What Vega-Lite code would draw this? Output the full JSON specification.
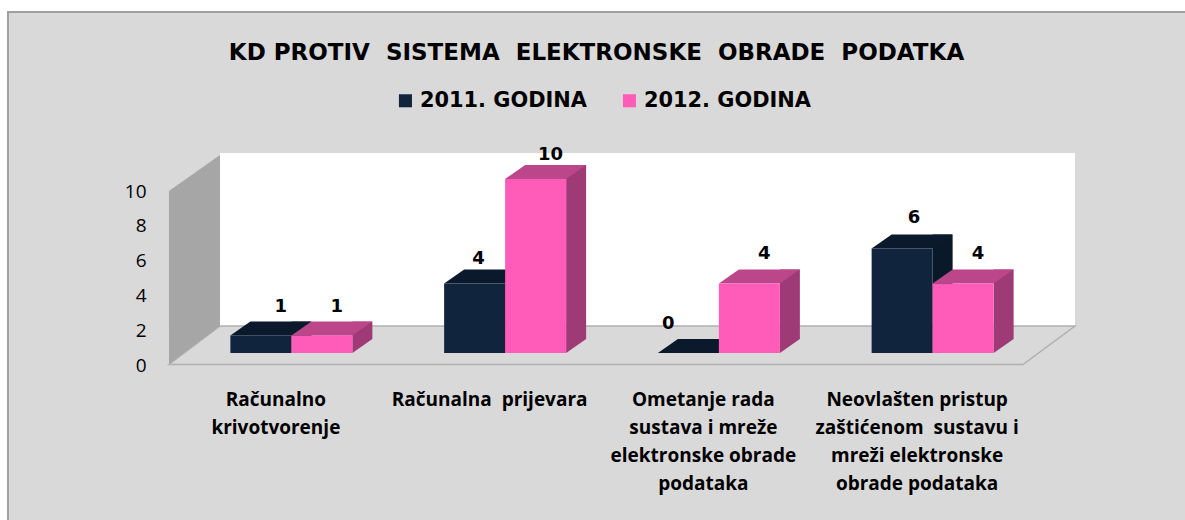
{
"$schema":"https://vega.github.io/schema/vega-lite/v6.json",
"width":855,"height":174,
"autosize":{"type":"none"},
"padding":{"left":169,"top":191,"right":161,"bottom":155},
"background":"#ffffff",
"title":{"text":"KD PROTIV \u00a0SISTEMA \u00a0ELEKTRONSKE \u00a0OBRADE \u00a0PODATKA","anchor":"middle","frame":"group","font":"DejaVu Sans","fontSize":23,"fontWeight":"bold","color":"#000000","offset":-57},
"data":{"values":[
{"category":"Računalno\nkrivotvorenje","series":"2011. GODINA","value":1},
{"category":"Računalna \u00a0prijevara","series":"2011. GODINA","value":4},
{"category":"Ometanje rada\nsustava i mreže\nelektronske obrade\npodataka","series":"2011. GODINA","value":0},
{"category":"Neovlašten pristup\nzaštićenom \u00a0sustavu i\nmreži elektronske\nobrade podataka","series":"2011. GODINA","value":6},
{"category":"Računalno\nkrivotvorenje","series":"2012. GODINA","value":1},
{"category":"Računalna \u00a0prijevara","series":"2012. GODINA","value":10},
{"category":"Ometanje rada\nsustava i mreže\nelektronske obrade\npodataka","series":"2012. GODINA","value":4},
{"category":"Neovlašten pristup\nzaštićenom \u00a0sustavu i\nmreži elektronske\nobrade podataka","series":"2012. GODINA","value":4}
]},
"encoding":{
"x":{"field":"category","type":"nominal","sort":null,"title":null,"scale":{"paddingInner":0,"paddingOuter":0},
"axis":{"domain":false,"ticks":false,"grid":false,"labelAngle":0,"labelAlign":"center","labelBaseline":"top","labelPadding":25,"labelFont":"Open Sans","labelFontWeight":"bold","labelFontSize":19,"labelColor":"#000000","labelLineHeight":28.3,"labelLimit":400,"zindex":1,"labelExpr":"split(datum.value,'\\n')"}},
"y":{"field":"value","type":"quantitative","stack":null,"title":null,"scale":{"domain":[0,10],"nice":false},
"axis":{"domain":false,"ticks":false,"grid":false,"values":[0,2,4,6,8,10],"labelPadding":23,"labelFont":"Open Sans","labelFontSize":19,"labelColor":"#000000","zindex":1}}
},
"layer":[
{"transform":[{"filter":"datum.value==1 && datum.series=='2011. GODINA'"}],"mark":{"type":"point","filled":true,"opacity":1,"size":4,"fill":"#d9d9d9","stroke":"#a0a0a0","strokeWidth":2,"shape":"M-267.9,160L-267.9,-353L914,-353L914,160Z"},"encoding":{"y":{"datum":0}}},
{"transform":[{"filter":"datum.value==1 && datum.series=='2011. GODINA'"}],"mark":{"type":"point","filled":true,"opacity":1,"size":4,"fill":"#ffffff","strokeWidth":0,"shape":"M-55.9,-39L-55.9,-212L799.1,-212L799.1,-39Z"},"encoding":{"y":{"datum":0}}},
{"transform":[{"filter":"datum.value==1 && datum.series=='2011. GODINA'"}],"mark":{"type":"point","filled":true,"opacity":1,"size":4,"fill":"#d9d9d9","stroke":"#b0b0b0","strokeWidth":1.5,"shape":"M-106.9,-0.5L-55.9,-39L799.1,-39L747.1,-0.5Z"},"encoding":{"y":{"datum":0}}},
{"transform":[{"filter":"datum.value==1 && datum.series=='2011. GODINA'"}],"mark":{"type":"point","filled":true,"opacity":1,"size":4,"fill":"#a6a6a6","strokeWidth":0,"shape":"M-106.9,-174L-55.9,-210L-55.9,-39L-106.9,-1Z"},"encoding":{"y":{"datum":0}}},

{"transform":[{"filter":"datum.series=='2011. GODINA'"}],"mark":{"type":"bar","width":20,"xOffset":25.5,"yOffset":-26,"y2Offset":-26,"fill":"#0a1929"},"encoding":{"y2":{"datum":0}}},
{"transform":[{"filter":"datum.series=='2011. GODINA'"}],"mark":{"type":"point","filled":true,"opacity":1,"size":4,"fill":"#0a1929","strokeWidth":0,"xOffset":-15,"yOffset":-12,"shape":"M30.5,0L50.5,-14L30.5,-14Z"},"encoding":{"y":{"datum":0}}},
{"transform":[{"filter":"datum.series=='2011. GODINA'"}],"mark":{"type":"point","filled":true,"opacity":1,"size":4,"fill":"#0a192c","strokeWidth":0,"xOffset":-15,"yOffset":-12,"shape":"M-30.5,0L-10.5,-14L50.5,-14L30.5,0Z"}},
{"transform":[{"filter":"datum.series=='2011. GODINA'"}],"mark":{"type":"bar","width":61,"xOffset":-15,"yOffset":-12,"y2Offset":-12},"encoding":{"y2":{"datum":0},"color":{"field":"series","type":"nominal","title":null,"scale":{"domain":["2011. GODINA","2012. GODINA"],"range":["#10243e","#fe5cb8"]},"legend":{"orient":"none","legendX":226,"legendY":-101,"direction":"horizontal","symbolType":"square","symbolSize":170,"symbolOpacity":1,"labelFont":"DejaVu Sans","labelFontWeight":"bold","labelFontSize":20.9,"labelColor":"#000000","columnPadding":32,"labelOffset":4,"labelLimit":300}}}},

{"transform":[{"filter":"datum.series=='2012. GODINA'"}],"mark":{"type":"bar","width":20,"xOffset":86.5,"yOffset":-26,"y2Offset":-26,"fill":"#9e3a76"},"encoding":{"y2":{"datum":0}}},
{"transform":[{"filter":"datum.series=='2012. GODINA'"}],"mark":{"type":"point","filled":true,"opacity":1,"size":4,"fill":"#9e3a76","strokeWidth":0,"xOffset":46,"yOffset":-12,"shape":"M30.5,0L50.5,-14L30.5,-14Z"},"encoding":{"y":{"datum":0}}},
{"transform":[{"filter":"datum.series=='2012. GODINA'"}],"mark":{"type":"point","filled":true,"opacity":1,"size":4,"fill":"#bb4689","strokeWidth":0,"xOffset":46,"yOffset":-12,"shape":"M-30.5,0L-10.5,-14L50.5,-14L30.5,0Z"}},
{"transform":[{"filter":"datum.series=='2012. GODINA'"}],"mark":{"type":"bar","width":61,"xOffset":46,"yOffset":-12,"y2Offset":-12},"encoding":{"y2":{"datum":0},"color":{"field":"series","type":"nominal","title":null}}},

{"transform":[{"filter":"datum.series=='2011. GODINA' && datum.value==1"}],"mark":{"type":"text","font":"DejaVu Sans","fontWeight":"bold","fontSize":18,"color":"#000000","baseline":"middle","xOffset":5,"yOffset":-41},"encoding":{"text":{"field":"value","type":"quantitative"}}},
{"transform":[{"filter":"datum.series=='2011. GODINA' && datum.value==4"}],"mark":{"type":"text","font":"DejaVu Sans","fontWeight":"bold","fontSize":18,"color":"#000000","baseline":"middle","xOffset":-11,"yOffset":-36},"encoding":{"text":{"field":"value","type":"quantitative"}}},
{"transform":[{"filter":"datum.series=='2011. GODINA' && datum.value==6"}],"mark":{"type":"text","font":"DejaVu Sans","fontWeight":"bold","fontSize":18,"color":"#000000","baseline":"middle","xOffset":-3,"yOffset":-43},"encoding":{"text":{"field":"value","type":"quantitative"}}},
{"transform":[{"filter":"datum.series=='2011. GODINA' && datum.value==0"}],"mark":{"type":"text","font":"DejaVu Sans","fontWeight":"bold","fontSize":18,"color":"#000000","baseline":"middle","xOffset":-35,"yOffset":-41},"encoding":{"text":{"field":"value","type":"quantitative"}}},
{"transform":[{"filter":"datum.series=='2012. GODINA' && datum.value<10"}],"mark":{"type":"text","font":"DejaVu Sans","fontWeight":"bold","fontSize":18,"color":"#000000","baseline":"middle","xOffset":61,"yOffset":-41},"encoding":{"text":{"field":"value","type":"quantitative"}}},
{"transform":[{"filter":"datum.value==10"}],"mark":{"type":"text","font":"DejaVu Sans","fontWeight":"bold","fontSize":18,"color":"#000000","baseline":"middle","xOffset":61,"yOffset":-36},"encoding":{"text":{"field":"value","type":"quantitative"}}}
],
"config":{"view":{"stroke":null}}
}
